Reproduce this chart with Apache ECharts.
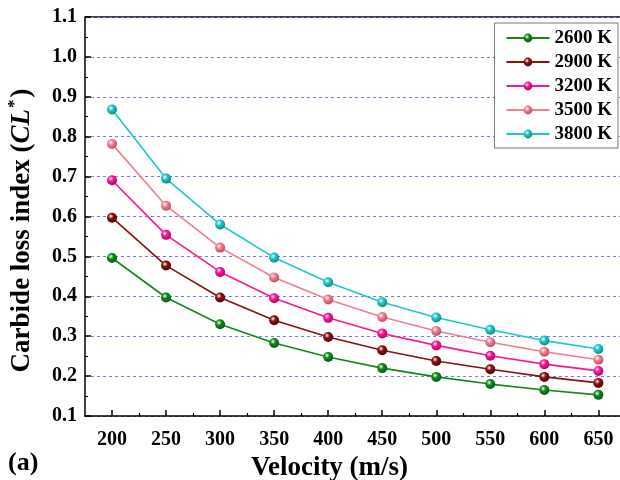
<!DOCTYPE html>
<html>
<head>
<meta charset="utf-8">
<script src="https://cdn.jsdelivr.net/npm/echarts@6/dist/echarts.min.js"></script>
<style>
  html, body { margin: 0; padding: 0; background: #fff; }
  #chart { width: 620px; height: 480px; }
</style>
</head>
<body>
<div id="chart"></div>
<script>
// velocity (m/s)
const velocities = [200, 250, 300, 350, 400, 450, 500, 550, 600, 650];
const minorVel = [225, 275, 325, 375, 425, 475, 525, 575, 625];

// carbide loss index per temperature
const cl2600 = [0.496, 0.397, 0.330, 0.283, 0.248, 0.220, 0.198, 0.180, 0.165, 0.153];
const cl2900 = [0.597, 0.477, 0.397, 0.340, 0.298, 0.265, 0.238, 0.217, 0.198, 0.183];
const cl3200 = [0.691, 0.554, 0.461, 0.395, 0.346, 0.307, 0.277, 0.251, 0.230, 0.213];
const cl3500 = [0.782, 0.627, 0.522, 0.447, 0.392, 0.348, 0.313, 0.285, 0.261, 0.241];
const cl3800 = [0.868, 0.695, 0.580, 0.497, 0.435, 0.385, 0.347, 0.316, 0.289, 0.268];

const seriesNames = ["2600 K", "2900 K", "3200 K", "3500 K", "3800 K"];
const seriesData = [cl2600, cl2900, cl3200, cl3500, cl3800];
const colors = ["#0f8a1a", "#8b1010", "#ff1493", "#f07f8f", "#1ec8c8"];
const darks = ["#055010", "#4a0000", "#a0005a", "#b04455", "#0a7a7a"];

const font = "Liberation Serif";

const chart = echarts.init(document.getElementById("chart"));

const ball = (i) => ({
  type: "radial",
  x: 0.38,
  y: 0.35,
  r: 0.75,
  colorStops: [
    { offset: 0, color: "#ffffff" },
    { offset: 0.35, color: colors[i] },
    { offset: 1, color: darks[i] },
  ],
});

const option = {
  backgroundColor: "#ffffff",
  animation: false,
  grid: { left: 85, right: 0, top: 17, bottom: 64, outerBoundsMode: "none" },
  legend: {
    orient: "vertical",
    right: 2,
    top: 23,
    padding: [5, 6, 4, 11],
    itemGap: 4,
    itemWidth: 43,
    itemHeight: 11,
    borderColor: "#777",
    borderWidth: 1,
    backgroundColor: "#fff",
    textStyle: { fontFamily: font, fontWeight: "bold", fontSize: 19, color: "#000", lineHeight: 20 },
    data: seriesNames,
  },
  xAxis: [
    {
      type: "value",
      min: 175,
      max: 670,
      name: "Velocity (m/s)",
      nameLocation: "middle",
      nameGap: 34,
      nameTextStyle: { fontFamily: font, fontWeight: "bold", fontSize: 27, color: "#000", padding: [0, 46, 0, 0] },
      axisLine: { lineStyle: { color: "#000", width: 1.5 } },
      axisTick: { inside: true, length: 6, lineStyle: { color: "#000", width: 1.5 }, customValues: velocities },
      axisLabel: {
        customValues: velocities,
        margin: 14,
        fontFamily: font,
        fontWeight: "bold",
        fontSize: 20,
        color: "#000",
      },
      splitLine: { show: false },
    },
    {
      type: "value",
      min: 175,
      max: 670,
      position: "bottom",
      axisLine: { show: false },
      axisTick: { inside: true, length: 3, lineStyle: { color: "#000", width: 1.2 }, customValues: minorVel },
      axisLabel: { show: false },
      splitLine: { show: false },
    },
  ],
  yAxis: [
    {
      type: "value",
      min: 0.1,
      max: 1.1,
      interval: 0.1,
      name: "{a|Carbide loss index (}{b|CL}{c|*}{a|)}",
      nameLocation: "middle",
      nameGap: 47,
      nameRotate: 90,
      nameTextStyle: {
        padding: [0, 28, 0, 0],
        rich: {
          a: { fontFamily: font, fontWeight: "bold", fontSize: 27, color: "#000", lineHeight: 32 },
          b: { fontFamily: font, fontWeight: "bold", fontStyle: "italic", fontSize: 27, color: "#000", lineHeight: 32 },
          c: { fontFamily: font, fontWeight: "bold", fontSize: 17, color: "#000", verticalAlign: "top", lineHeight: 32, padding: [0, 2, 14, 1] },
        },
      },
      axisLine: { show: true, lineStyle: { color: "#000", width: 1.5 } },
      axisTick: { inside: true, length: 6, lineStyle: { color: "#000", width: 1.5 } },
      minorTick: { show: true, splitNumber: 2, length: 3, lineStyle: { color: "#000", width: 1.2 } },
      axisLabel: {
        margin: 8,
        fontFamily: font,
        fontWeight: "bold",
        fontSize: 20,
        color: "#000",
        formatter: (v) => v.toFixed(1),
      },
      splitLine: { show: true, lineStyle: { color: "#7878e8", type: [3, 3], width: 1 } },
    },
  ],
  graphic: [
    {
      type: "line",
      shape: { x1: 85, y1: 17, x2: 620, y2: 17 },
      style: { stroke: "#000", lineWidth: 1.5 },
    },
    {
      type: "text",
      left: 8,
      top: 450,
      style: { text: "(a)", fontFamily: font, fontWeight: "bold", fontSize: 26, fill: "#000" },
    },
  ],
  series: seriesNames.map((name, i) => ({
    name: name,
    type: "line",
    data: velocities.map((v, j) => [v, seriesData[i][j]]),
    symbol: "circle",
    symbolSize: 10,
    lineStyle: { color: colors[i], width: 1.6 },
    itemStyle: { color: ball(i) },
  })),
};

chart.setOption(option);
</script>
</body>
</html>
